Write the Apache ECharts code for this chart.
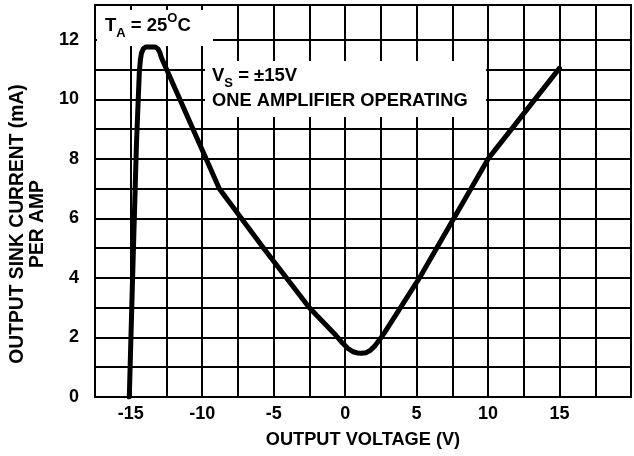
<!DOCTYPE html>
<html><head><meta charset="utf-8">
<script src="https://cdn.jsdelivr.net/npm/echarts@6/dist/echarts.min.js"></script>
<style>html,body{margin:0;padding:0;background:#fff}#c{width:634px;height:456px}</style>
</head><body><div id="c"></div>
<script>
// Output voltage (V) and output sink current (mA)
const voltage = [-15.1, -14.9, -14.6, -14.4, -14.33, -14.25, -14.12, -13.95, -13.3, -13.1, -12.97, -12.85, -8.8, -5.7, -2.5, -0.7, -0.2, 0.2, 0.55, 0.85, 1.15, 1.45, 1.75, 2.05, 2.4, 2.7, 5.2, 7.6, 10.0, 15.0];
const current = [0, 3.5, 8.5, 10.9, 11.3, 11.55, 11.7, 11.76, 11.76, 11.7, 11.58, 11.4, 7.0, 5.0, 3.0, 2.1, 1.82, 1.63, 1.52, 1.48, 1.47, 1.49, 1.56, 1.7, 1.92, 2.12, 4.0, 6.0, 8.0, 11.05];
const xTickLabels = [-15, -10, -5, 0, 5, 10, 15];
const yTickLabels = [0, 2, 4, 6, 8, 10, 12];
const xTitle = 'OUTPUT VOLTAGE (V)';
const yTitle = 'OUTPUT SINK CURRENT (mA)\nPER AMP';
const noteTemp = '{m|T}{s|A}{m| = 25}{p|O}{m|C}';
const noteSupply = '{m|V}{s|S}{m| = \u00b115V}';
const noteAmp = 'ONE AMPLIFIER OPERATING';

const FONT = '"Liberation Sans", Arial, Helvetica, sans-serif';
const chart = echarts.init(document.getElementById('c'), null, {renderer: 'canvas'});
const yGridColors = [];
for (let v = 1; v <= 13; v++) yGridColors.push(v <= 12 ? '#000' : 'rgba(0,0,0,0)');

const richBase = {
  m: {fontSize: 18.5, fontWeight: 'bold', fontFamily: FONT, color: '#000', verticalAlign: 'middle', lineHeight: 28},
  s: {fontSize: 13, fontWeight: 'bold', fontFamily: FONT, color: '#000', verticalAlign: 'bottom', lineHeight: 28},
  p: {fontSize: 13, fontWeight: 'bold', fontFamily: FONT, color: '#000', verticalAlign: 'top', lineHeight: 28}
};

chart.setOption({
  animation: false,
  backgroundColor: '#fff',
  grid: {left: 93, right: 2, top: 5, bottom: 59, show: true, borderColor: '#000', borderWidth: 2, backgroundColor: 'transparent'},
  xAxis: {
    type: 'value', min: -17.5, max: 20, interval: 2.5,
    axisLine: {show: true, lineStyle: {color: '#000', width: 2}},
    axisTick: {show: false},
    splitLine: {show: true, showMinLine: false, showMaxLine: false, lineStyle: {color: '#000', width: 2}},
    axisLabel: {
      margin: 8, color: '#000', fontSize: 18, fontWeight: 'bold', fontFamily: FONT,
      formatter: v => xTickLabels.includes(v) ? String(v) : ''
    },
    name: xTitle, nameLocation: 'middle', nameGap: 34,
    nameTextStyle: {color: '#000', fontSize: 18.2, fontWeight: 'bold', fontFamily: FONT}
  },
  yAxis: {
    type: 'value', min: 0, max: 13.17, interval: 1,
    axisLine: {show: true, lineStyle: {color: '#000', width: 2}},
    axisTick: {show: false},
    splitLine: {show: true, showMinLine: false, showMaxLine: false, lineStyle: {color: yGridColors, width: 2}},
    axisLabel: {
      margin: 16, color: '#000', fontSize: 18, fontWeight: 'bold', fontFamily: FONT,
      formatter: v => yTickLabels.includes(v) ? String(v) : ''
    },
    name: yTitle, nameLocation: 'middle', nameGap: 47, nameRotate: 90,
    nameTextStyle: {color: '#000', fontSize: 19.3, fontWeight: 'bold', fontFamily: FONT, lineHeight: 20, align: 'center', padding: [0, 46, 0, 0]}
  },
  graphic: [
    {type: 'rect', z: 1, shape: {x: 97, y: 10, width: 116, height: 36}, style: {fill: '#fff'}},
    {type: 'rect', z: 1, shape: {x: 205, y: 61, width: 281, height: 56}, style: {fill: '#fff'}},
    {type: 'text', z: 5, x: 105, y: 26, style: {text: noteTemp, rich: richBase, verticalAlign: 'middle', align: 'left'}},
    {type: 'text', z: 5, x: 212, y: 76, style: {text: noteSupply, rich: richBase, verticalAlign: 'middle', align: 'left'}},
    {type: 'text', z: 5, x: 212, y: 101, style: {text: noteAmp, fontSize: 18.3, fontWeight: 'bold', fontFamily: FONT, fill: '#000', verticalAlign: 'middle', align: 'left'}}
  ],
  series: [{
    type: 'line', z: 3,
    data: voltage.map((v, i) => [v, current[i]]),
    showSymbol: false, smooth: false,
    lineStyle: {color: '#000', width: 5, join: 'round', cap: 'round'}
  }]
});
</script>
</body></html>
